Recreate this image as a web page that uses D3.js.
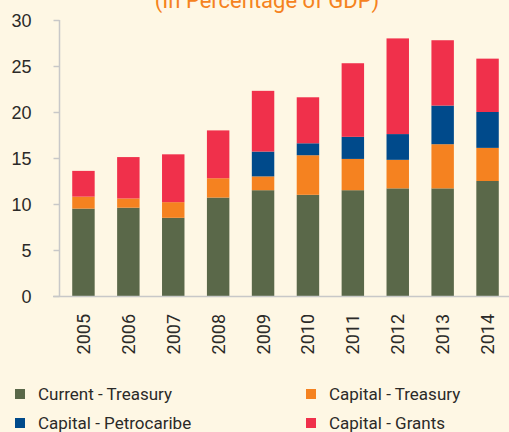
<!DOCTYPE html>
<html>
<head>
<meta charset="utf-8">
<script src="https://cdn.jsdelivr.net/npm/d3@7"></script>
<style>
  body { margin: 0; background: #fef7e4; }
  svg { display: block; font-family: Roboto, sans-serif; }
</style>
</head>
<body>
<script>
// data (percent of GDP)
const years = ['2005', '2006', '2007', '2008', '2009', '2010', '2011', '2012', '2013', '2014']
const currentTreasury = [9.5, 9.6, 8.5, 10.7, 11.5, 11.0, 11.5, 11.7, 11.7, 12.5]
const capitalTreasury = [1.3, 1.0, 1.7, 2.1, 1.5, 4.3, 3.4, 3.1, 4.8, 3.6]
const capitalPetrocaribe = [0, 0, 0, 0, 2.7, 1.3, 2.4, 2.8, 4.2, 3.9]
const capitalGrants = [2.8, 4.5, 5.2, 5.2, 6.6, 5.0, 8.0, 10.4, 7.1, 5.8]
const seriesNames = ['Current - Treasury', 'Capital - Treasury', 'Capital - Petrocaribe', 'Capital - Grants']
const yTicks = [0, 5, 10, 15, 20, 25, 30]

const colors = ['#5a6849', '#f58220', '#004a8b', '#f0304b']

const w = 509
const h = 432

// build rows for the stack
const rows = years.map((y, i) => ({
    year: y,
    s0: currentTreasury[i],
    s1: capitalTreasury[i],
    s2: capitalPetrocaribe[i],
    s3: capitalGrants[i]
}))
const stack = d3.stack().keys(['s0', 's1', 's2', 's3'])(rows)

const xScale = d3.scaleBand()
    .domain(years)
    .range([61, 510])
    .paddingInner(0.5)
    .paddingOuter(0.25)

const yScale = d3.scaleLinear()
    .domain([0, 30])
    .range([296, 20])

const svg = d3.select('body')
    .append('svg')
    .attr('width', w)
    .attr('height', h)

// title, partly cut off at the top
svg.append('text')
    .attr('x', 267)
    .attr('y', 8)
    .attr('text-anchor', 'middle')
    .style('font-size', '22px')
    .style('fill', '#f58220')
    .text('(In Percentage of GDP)')

// y axis
const yAxis = d3.axisLeft(yScale).tickValues(yTicks).tickSize(6).tickPadding(22)
const gy = svg.append('g')
    .attr('transform', 'translate(59.5,0)')
    .call(yAxis)
gy.select('.domain').remove()
gy.append('line')
    .attr('x1', 0).attr('x2', 0)
    .attr('y1', yScale(30)).attr('y2', yScale(0))
    .attr('stroke', '#c8c8c8').attr('stroke-width', 1.5)
gy.selectAll('.tick line').attr('stroke', '#c8c8c8').attr('stroke-width', 1.5)
gy.selectAll('.tick text')
    .style('font-size', '18px')
    .style('fill', '#2b2a28')
    .attr('dy', '0.36em')

// bars
svg.selectAll('g.series')
    .data(stack)
    .enter()
    .append('g')
    .attr('class', 'series')
    .attr('fill', (d, i) => colors[i])
    .selectAll('rect')
    .data(d => d)
    .enter()
    .append('rect')
    .attr('x', d => xScale(d.data.year))
    .attr('width', xScale.bandwidth())
    .attr('y', d => yScale(d[1]))
    .attr('height', d => yScale(d[0]) - yScale(d[1]))

// baseline
svg.append('line')
    .attr('x1', 53).attr('x2', w)
    .attr('y1', yScale(0) + 0.5).attr('y2', yScale(0) + 0.5)
    .attr('stroke', '#c8c8c8').attr('stroke-width', 1.5)

// rotated year labels
svg.selectAll('text.year')
    .data(years)
    .enter()
    .append('text')
    .attr('class', 'year')
    .attr('text-anchor', 'end')
    .attr('transform', d => `translate(${xScale(d) + xScale.bandwidth() / 2 + 6.5},314) rotate(-90)`)
    .style('font-size', '18px')
    .style('fill', '#2b2a28')
    .text(d => d)

// legend
const legendPos = [[15, 389], [306, 389], [15, 418], [306, 418]]
seriesNames.forEach((name, i) => {
    const [lx, ly] = legendPos[i]
    svg.append('rect')
        .attr('x', lx).attr('y', ly)
        .attr('width', 10).attr('height', 10)
        .attr('fill', colors[i])
    svg.append('text')
        .attr('x', lx + 23)
        .attr('y', ly + 11)
        .style('font-size', '17px')
        .style('fill', '#2b2a28')
        .text(name)
})
</script>
</body>
</html>
